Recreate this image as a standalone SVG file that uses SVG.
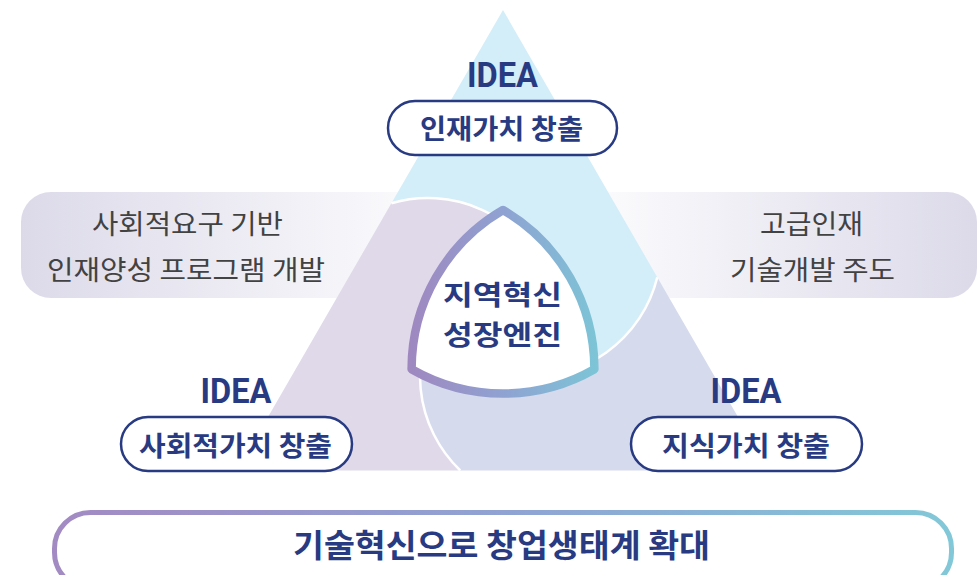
<svg xmlns="http://www.w3.org/2000/svg" width="979" height="575" viewBox="0 0 979 575">
  <style>
    .navy { fill: #283b82; font-family: "Noto Sans CJK KR", "Noto Sans", sans-serif; font-weight: 700; }
    .idea { fill: #283b82; font-family: Roboto, "Liberation Sans", sans-serif; font-weight: 700; font-size: 35px; }
    .gray { fill: #424242; font-family: "Noto Sans CJK KR", "Noto Sans", sans-serif; font-weight: 400; font-size: 27px; }
    .pill { fill: #ffffff; stroke: #283b82; stroke-width: 2.5; }
    .divider { fill: none; stroke: #ffffff; stroke-width: 2.5; }
  </style>
  <defs>
    <linearGradient id="boxL" x1="21" y1="0" x2="420" y2="0" gradientUnits="userSpaceOnUse">
      <stop offset="0" stop-color="#dcdae9"/>
      <stop offset="1" stop-color="#fbfbfd"/>
    </linearGradient>
    <linearGradient id="boxR" x1="600" y1="0" x2="977" y2="0" gradientUnits="userSpaceOnUse">
      <stop offset="0" stop-color="#fbfbfd"/>
      <stop offset="1" stop-color="#dcdae9"/>
    </linearGradient>
    <linearGradient id="ring" x1="405" y1="0" x2="601" y2="0" gradientUnits="userSpaceOnUse">
      <stop offset="0" stop-color="#a086bf"/>
      <stop offset="0.5" stop-color="#8fa2d2"/>
      <stop offset="1" stop-color="#7cc6d7"/>
    </linearGradient>
    <linearGradient id="bar" x1="52" y1="0" x2="953" y2="0" gradientUnits="userSpaceOnUse">
      <stop offset="0" stop-color="#a38ac3"/>
      <stop offset="0.5" stop-color="#90a3d3"/>
      <stop offset="1" stop-color="#82c8d8"/>
    </linearGradient>
  </defs>

  <rect width="979" height="575" fill="#ffffff"/>

  <!-- side boxes (under the triangle) -->
  <g id="box-left">
    <rect x="21" y="192" width="420" height="106" rx="30" fill="url(#boxL)"/>
  </g>
  <g id="box-right">
    <rect x="565" y="192" width="412" height="106" rx="30" fill="url(#boxR)"/>
  </g>

  <!-- triangle regions -->
  <g id="triangle">
    <path id="region-top" fill="#d4eef9" d="M503,10 L657.3,277.2 A131,131 0 0 1 518.7,376.4 L503,317 L546.6,273.7 A131,131 0 0 0 391.4,203.3 Z"/>
    <path id="region-left" fill="#e0d9ea" d="M391.4,203.3 L237.1,470.5 L460.3,470.5 A131,131 0 0 1 443.7,300.9 L503,317 L546.6,273.7 A131,131 0 0 0 391.4,203.3 Z"/>
    <path id="region-right" fill="#d5daed" d="M657.3,277.2 L768.9,470.5 L460.3,470.5 A131,131 0 0 1 443.7,300.9 L503,317 L518.7,376.4 A131,131 0 0 0 657.3,277.2 Z"/>
  </g>
  <g id="connectors">
    <path class="divider" d="M391.4,203.3 A131,131 0 0 1 546.6,273.7"/>
    <path class="divider" d="M657.3,277.2 A131,131 0 0 1 518.7,376.4"/>
    <path class="divider" d="M460.3,470.5 A131,131 0 0 1 443.7,300.9"/>
  </g>

  <!-- side box texts -->
  <g id="text-left">
    <text class="gray" x="187.5" y="234" text-anchor="middle" textLength="191" lengthAdjust="spacingAndGlyphs">사회적요구 기반</text>
    <text class="gray" x="186" y="280" text-anchor="middle" textLength="278" lengthAdjust="spacingAndGlyphs">인재양성 프로그램 개발</text>
  </g>
  <g id="text-right">
    <text class="gray" x="811.5" y="234" text-anchor="middle" textLength="103" lengthAdjust="spacingAndGlyphs">고급인재</text>
    <text class="gray" x="812.5" y="280" text-anchor="middle" textLength="165" lengthAdjust="spacingAndGlyphs">기술개발 주도</text>
  </g>

  <!-- center Reuleaux shape -->
  <g id="center">
    <path d="M503,210 A184,184 0 0 0 411.6,369.3 A184,184 0 0 0 594.4,369.3 A184,184 0 0 0 503,210 Z" fill="#ffffff" stroke="url(#ring)" stroke-width="8.5" stroke-linejoin="round"/>
    <text class="navy" x="502.5" y="305" font-size="27.5" text-anchor="middle" textLength="119" lengthAdjust="spacingAndGlyphs">지역혁신</text>
    <text class="navy" x="502.5" y="345" font-size="27.5" text-anchor="middle" textLength="119" lengthAdjust="spacingAndGlyphs">성장엔진</text>
  </g>

  <!-- top node -->
  <g id="node-top">
    <text class="idea" x="502.5" y="87" text-anchor="middle" textLength="71" lengthAdjust="spacingAndGlyphs">IDEA</text>
    <rect class="pill" x="388" y="101" width="229" height="54" rx="27"/>
    <text class="navy" x="501.5" y="139" font-size="27" text-anchor="middle" textLength="163" lengthAdjust="spacingAndGlyphs">인재가치 창출</text>
  </g>

  <!-- left node -->
  <g id="node-left">
    <text class="idea" x="236" y="403" text-anchor="middle" textLength="71" lengthAdjust="spacingAndGlyphs">IDEA</text>
    <rect class="pill" x="121" y="417" width="231" height="54" rx="27"/>
    <text class="navy" x="235.5" y="456" font-size="27" text-anchor="middle" textLength="193" lengthAdjust="spacingAndGlyphs">사회적가치 창출</text>
  </g>

  <!-- right node -->
  <g id="node-right">
    <text class="idea" x="746" y="403" text-anchor="middle" textLength="71" lengthAdjust="spacingAndGlyphs">IDEA</text>
    <rect class="pill" x="631" y="417" width="231" height="54" rx="27"/>
    <text class="navy" x="746" y="456" font-size="27" text-anchor="middle" textLength="168" lengthAdjust="spacingAndGlyphs">지식가치 창출</text>
  </g>

  <!-- bottom bar -->
  <g id="node-bottom">
    <rect x="54.5" y="512.5" width="897" height="76" rx="36" fill="#ffffff" stroke="url(#bar)" stroke-width="5"/>
    <text class="navy" x="501.5" y="557" font-size="32" text-anchor="middle" textLength="417" lengthAdjust="spacingAndGlyphs">기술혁신으로 창업생태계 확대</text>
  </g>
</svg>
